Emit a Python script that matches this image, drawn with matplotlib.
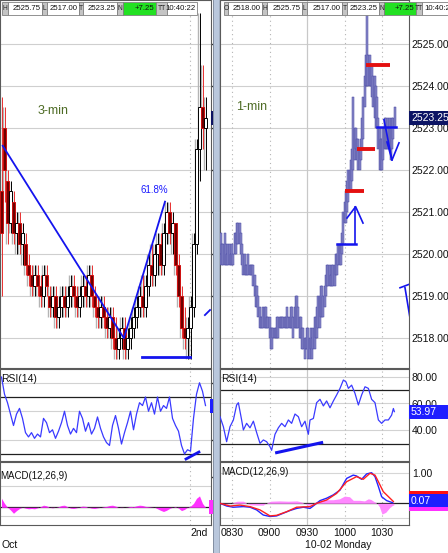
import matplotlib
matplotlib.use('Agg')
import matplotlib.pyplot as plt
from matplotlib.patches import Rectangle
from matplotlib.transforms import blended_transform_factory

plt.rcParams['font.family'] = ['Liberation Sans', 'DejaVu Sans']

# ------------------------------------------------------------------ data
# left pane: 3-min candles
left_open = [2521.5, 2523.0, 2521.75, 2520.75, 2521.25, 2520.5, 2520.75, 2520.25, 2520.25, 2519.75,
             2519.5, 2519.25, 2519.5, 2519.25, 2519.0, 2519.5, 2519.0, 2518.75, 2519.0, 2518.5,
             2518.75, 2519.0, 2518.75, 2519.0, 2519.25, 2519.0, 2518.75, 2519.0, 2519.25, 2519.0,
             2519.5, 2519.0, 2518.75, 2518.5, 2518.75, 2518.5, 2518.25, 2518.5, 2518.0, 2517.75,
             2518.0, 2518.25, 2517.75, 2518.0, 2518.25, 2518.5, 2518.75, 2519.0, 2518.75, 2519.25,
             2519.75, 2519.5, 2520.0, 2520.25, 2519.75, 2520.5, 2521.0, 2520.5, 2520.75, 2519.75,
             2519.0, 2518.25, 2518.0, 2518.25, 2518.75, 2520.25, 2522.5, 2523.5, 2523.0]
left_high = [2523.75, 2523.5, 2522.0, 2521.75, 2521.5, 2521.0, 2521.0, 2520.75, 2520.5, 2520.0,
             2519.75, 2519.75, 2519.75, 2519.5, 2519.75, 2519.75, 2519.25, 2519.25, 2519.25, 2519.0,
             2519.25, 2519.25, 2519.25, 2519.5, 2519.5, 2519.25, 2519.25, 2519.5, 2519.5, 2519.75,
             2519.75, 2519.25, 2519.0, 2519.0, 2519.0, 2518.75, 2518.75, 2518.75, 2518.5, 2518.25,
             2518.5, 2518.5, 2518.25, 2518.5, 2518.75, 2519.0, 2519.25, 2519.5, 2519.5, 2520.0,
             2520.25, 2520.25, 2520.5, 2520.5, 2520.75, 2521.25, 2521.25, 2521.0, 2520.75, 2520.0,
             2519.25, 2518.75, 2518.5, 2519.0, 2520.5, 2522.75, 2525.75, 2524.5, 2523.75]
left_low = [2519.0, 2521.25, 2520.25, 2520.5, 2520.25, 2520.0, 2520.0, 2519.75, 2519.5, 2519.25,
            2519.0, 2519.0, 2519.0, 2518.75, 2518.75, 2519.0, 2518.5, 2518.5, 2518.25, 2518.25,
            2518.5, 2518.5, 2518.5, 2518.75, 2518.75, 2518.5, 2518.5, 2518.75, 2518.75, 2518.75,
            2518.75, 2518.5, 2518.25, 2518.25, 2518.25, 2518.0, 2518.0, 2517.75, 2517.5, 2517.5,
            2517.75, 2517.5, 2517.5, 2517.75, 2518.0, 2518.25, 2518.5, 2518.5, 2518.5, 2519.0,
            2519.25, 2519.25, 2519.5, 2519.5, 2519.5, 2520.25, 2520.25, 2520.0, 2519.5, 2518.75,
            2518.0, 2517.75, 2517.5, 2517.5, 2518.5, 2520.0, 2521.75, 2522.5, 2522.0]
left_close = [2520.5, 2522.0, 2520.75, 2521.5, 2520.5, 2520.75, 2520.25, 2520.5, 2519.75, 2519.5,
              2519.25, 2519.5, 2519.25, 2519.0, 2519.5, 2519.25, 2518.75, 2519.0, 2518.5, 2518.75,
              2519.0, 2518.75, 2519.0, 2519.25, 2519.0, 2518.75, 2519.0, 2519.25, 2519.0, 2519.5,
              2519.0, 2518.75, 2518.5, 2518.75, 2518.5, 2518.25, 2518.5, 2518.0, 2517.75, 2518.0,
              2518.25, 2517.75, 2518.0, 2518.25, 2518.5, 2518.75, 2519.0, 2518.75, 2519.25, 2519.75,
              2519.5, 2520.0, 2520.25, 2519.75, 2520.5, 2521.0, 2520.5, 2520.75, 2519.75, 2519.0,
              2518.25, 2518.0, 2518.25, 2518.75, 2520.25, 2522.5, 2523.5, 2523.0, 2523.25]
left_rsi = [84, 72, 66, 58, 50, 58, 62, 55, 45, 42, 45, 41, 44, 42, 55, 52, 45, 47, 41, 46,
            52, 60, 50, 44, 48, 45, 60, 55, 46, 52, 44, 48, 56, 48, 42, 38, 36, 50, 57, 48,
            37, 45, 52, 60, 47, 58, 66, 64, 70, 60, 66, 58, 70, 60, 64, 62, 70, 55, 50, 46,
            36, 30, 33, 32, 55, 72, 80, 74, 64]
left_hist = [0.3, 0.13, 0.0, -0.09, -0.2, -0.11, -0.04, 0.0, -0.03, -0.05,
             -0.04, -0.05, -0.02, 0.02, 0.07, 0.05, 0.0, -0.02, 0.0, 0.02,
             0.06, 0.07, 0.02, -0.03, -0.04, -0.02, 0.01, 0.04, 0.03, 0.0,
             -0.03, -0.04, -0.02, 0.0, 0.02, 0.03, 0.06, 0.07, 0.04, 0.0,
             -0.01, 0.0, 0.01, 0.03, 0.02, 0.05, 0.07, 0.06, 0.03, 0.02,
             0.01, 0.0, -0.05, -0.1, -0.14, -0.1, -0.04, 0.0, 0.02, -0.03,
             -0.11, -0.07, 0.0, 0.04, 0.13, 0.3, 0.38, 0.13, 0.0]
left_day_break = 62.83

# right pane: 1-min bars, minutes from 08:30
right_minutes = list(range(-10, 131))
right_high = [2520.5, 2520.5, 2520.25, 2520.25, 2520.5, 2520.25, 2520.0, 2520.25, 2520.25, 2520.0,
              2520.25, 2520.0, 2520.5, 2520.5, 2520.75, 2520.75, 2520.75, 2520.5, 2520.25, 2520.0,
              2520.0, 2519.75, 2519.75, 2520.0, 2519.75, 2519.75, 2519.75, 2519.75, 2519.5, 2519.25,
              2519.25, 2519.0, 2518.75, 2518.5, 2518.5, 2518.75, 2518.75, 2518.75, 2518.5, 2518.5,
              2518.5, 2518.25, 2518.25, 2518.25, 2518.25, 2518.25, 2518.5, 2518.5, 2518.5, 2518.5,
              2518.5, 2518.5, 2518.5, 2518.5, 2518.75, 2518.5, 2518.5, 2518.75, 2518.75, 2518.5,
              2518.75, 2519.0, 2519.0, 2518.75, 2518.5, 2518.5, 2518.25, 2518.25, 2518.0, 2518.0,
              2518.25, 2518.25, 2518.0, 2518.25, 2518.0, 2518.25, 2518.5, 2518.5, 2518.75, 2519.0,
              2519.0, 2519.25, 2519.25, 2519.0, 2519.25, 2519.5, 2519.75, 2519.75, 2519.75, 2519.5,
              2519.75, 2519.75, 2519.75, 2520.0, 2520.0, 2520.25, 2520.25, 2520.25, 2520.5, 2521.0,
              2521.25, 2521.5, 2521.75, 2522.0, 2522.0, 2522.25, 2522.5, 2523.75, 2523.0, 2523.0,
              2522.75, 2522.75, 2522.5, 2522.75, 2523.25, 2523.75, 2524.25, 2524.75, 2525.75, 2524.75,
              2524.75, 2524.5, 2524.5, 2524.25, 2524.25, 2524.0, 2523.75, 2523.25, 2523.0, 2522.75,
              2522.75, 2523.0, 2523.25, 2523.25, 2523.0, 2523.25, 2523.25, 2523.0, 2523.25, 2523.25,
              2523.5]
right_low = [2519.75, 2520.0, 2519.75, 2519.75, 2519.75, 2519.75, 2519.75, 2519.75, 2519.75, 2519.75,
             2519.75, 2519.75, 2520.0, 2520.0, 2520.25, 2520.25, 2520.25, 2520.0, 2519.75, 2519.5,
             2519.5, 2519.5, 2519.5, 2519.5, 2519.5, 2519.5, 2519.5, 2519.25, 2519.0, 2518.75,
             2518.75, 2518.5, 2518.25, 2518.25, 2518.25, 2518.25, 2518.25, 2518.25, 2518.25, 2518.25,
             2518.0, 2517.75, 2517.75, 2518.0, 2518.0, 2518.0, 2518.0, 2518.0, 2518.25, 2518.25,
             2518.25, 2518.25, 2518.25, 2518.25, 2518.25, 2518.25, 2518.25, 2518.25, 2518.25, 2518.0,
             2518.25, 2518.25, 2518.25, 2518.25, 2518.0, 2518.0, 2517.75, 2517.75, 2517.5, 2517.75,
             2517.75, 2517.5, 2517.5, 2517.75, 2517.5, 2517.75, 2517.75, 2518.0, 2518.0, 2518.25,
             2518.25, 2518.5, 2518.5, 2518.5, 2518.75, 2519.0, 2519.25, 2519.25, 2519.25, 2519.25,
             2519.25, 2519.25, 2519.25, 2519.5, 2519.5, 2519.75, 2519.75, 2519.75, 2520.0, 2520.25,
             2520.75, 2520.75, 2521.0, 2521.25, 2521.5, 2521.5, 2521.75, 2522.0, 2522.25, 2522.5,
             2522.25, 2522.0, 2522.0, 2522.25, 2522.5, 2522.75, 2523.5, 2524.0, 2524.0, 2524.0,
             2524.0, 2524.0, 2523.75, 2523.5, 2523.25, 2523.0, 2523.0, 2522.5, 2522.0, 2522.0,
             2522.0, 2522.25, 2522.5, 2522.5, 2522.5, 2522.5, 2522.5, 2522.25, 2522.5, 2522.75,
             2523.0]
right_last = 2523.25

right_rsi_t = [-9.6, -6.9, -4.3, -1.6, 1.1, 3.7, 5.1, 7.7, 9.1, 11.7, 14.4, 17.1, 19.7, 22.4, 25.1,
               27.7, 30.4, 31.7, 34.4, 37.1, 39.7, 42.4, 45.1, 47.7, 50.4, 53.1, 55.7, 58.4, 59.7,
               61.1, 62.4, 65.1, 67.7, 70.4, 73.1, 75.7, 78.4, 81.1, 83.7, 86.4, 89.1, 91.2, 93.1,
               95.7, 98.4, 101.1, 103.7, 106.4, 109.1, 111.7, 114.4, 117.1, 119.7, 122.4, 125.1,
               127.7, 129.1, 129.9]
right_rsi = [50.2, 42.8, 31.7, 42.8, 47.8, 58.9, 60.6, 47.8, 40.4, 45.3, 42.0, 46.9, 38.5, 30.5, 33.0,
             31.7, 28.0, 25.3, 37.2, 42.0, 45.3, 42.8, 47.8, 45.3, 52.2, 50.2, 42.8, 46.9, 42.0,
             37.2, 47.8, 48.9, 60.6, 63.1, 58.2, 61.9, 56.8, 61.9, 66.3, 71.2, 77.4, 76.0, 71.2,
             73.6, 67.5, 58.9, 66.3, 72.4, 71.2, 63.1, 60.6, 47.8, 45.3, 47.8, 47.8,
             51.4, 56.3, 53.97]
right_rsi_last = 53.97

right_macd_t = [-9.6, -4.3, 1.1, 9.1, 14.4, 19.7, 25.0, 30.4, 35.7, 41.0, 46.4, 51.7, 57.1, 62.4,
                65.0, 70.4, 75.7, 81.0, 86.4, 91.7, 97.0, 99.7, 103.7, 107.7, 111.7, 114.4, 117.1,
                119.7, 123.7, 128.5]
right_macd = [0.0, -0.09, -0.13, -0.11, -0.13, -0.22, -0.39, -0.44, -0.42, -0.33, -0.24, -0.17,
              -0.13, -0.17, -0.09, 0.09, 0.17, 0.28, 0.44, 0.83, 0.94, 0.91, 0.8, 0.98, 1.02, 0.89,
              0.56, 0.22, 0.09, 0.02]
right_sig_t = [-9.6, -1.6, 6.4, 14.4, 22.4, 30.4, 35.7, 43.7, 51.7, 62.4, 67.7, 75.7, 83.7, 91.7,
               99.7, 105.0, 110.4, 114.4, 117.1, 121.0, 126.4, 129.1]
right_signal = [0.0, -0.09, -0.06, -0.11, -0.22, -0.42, -0.4, -0.28, -0.13, -0.11, 0.0, 0.11, 0.33,
                0.72, 0.89, 0.8, 1.0, 0.94, 0.72, 0.39, 0.17, 0.06]
right_hist_t = [-9.6, -4, 1, 4, 9, 12, 14.4, 20, 25, 27, 31, 38, 45, 52, 55, 58, 61, 64, 67, 70,
                75, 81, 86, 90, 94, 97, 102, 106, 109, 111, 114, 116, 118, 120, 123, 126, 128, 129.5]
right_hist = [-0.02, -0.03, 0.02, 0.07, 0.07, 0.0, -0.05, -0.06, -0.06, 0.0, 0.07, 0.08, 0.07, 0.08,
              0.05, 0.0, -0.06, -0.03, 0.05, 0.1, 0.12, 0.12, 0.15, 0.24, 0.22, 0.1, 0.1, 0.08,
              0.15, 0.13, 0.05, 0.0, -0.12, -0.36, -0.3, -0.15, -0.08, -0.05]
right_macd_last = 0.07

time_ticks = [0, 30, 60, 90, 120]
time_labels = ['0830', '0900', '0930', '1000', '1030']
price_ticks = [2518, 2519, 2520, 2521, 2522, 2523, 2524, 2525]
rsi_ticks = [40, 60, 80]
rsi_bands = [30, 70]

left_header_labels = ['H', 'L', 'T', 'N', 'TT']
left_header_values = ['2525.75', '2517.00', '2523.25', '+7.25', '10:40:22']
right_header_labels = ['O', 'H', 'L', 'T', 'N', 'TT']
right_header_values = ['2518.00', '2525.75', '2517.00', '2523.25', '+7.25', '10:40:22']

# drawing objects (price / time coordinates)
left_fib_x = [0.4, 40.8, 54.5]
left_fib_y = [2522.58, 2518.0, 2521.25]
left_base_x = [46.8, 62.8]
left_base_y = [2517.55, 2517.55]
red_levels = [2524.5, 2522.5, 2521.5]
red_from = [107.2, 100.0, 90.4]
red_to = [126.4, 114.4, 105.6]

# ------------------------------------------------------------------ layout
W, H = 448, 553
fig = plt.figure(figsize=(W / 100, H / 100), dpi=100)
fig.patch.set_facecolor('white')


def px_rect(x0, y0, x1, y1):
    return [x0 / W, 1 - y1 / H, (x1 - x0) / W, (y1 - y0) / H]


def style(ax, labels=True):
    ax.set_facecolor('white')
    for s in ax.spines.values():
        s.set_color('#5a5a5a')
        s.set_linewidth(0.8)
    ax.yaxis.tick_right()
    ax.tick_params(left=False, bottom=False, labelbottom=False, labelleft=False,
                   labelright=labels, pad=2, labelsize=7.5, labelcolor='#111111')
    if labels:
        ax.tick_params(right=False, length=0)
    else:
        # the left panel's own price scale sits under the separator: only stubs show
        ax.tick_params(right=True, length=2.2, width=1.0, color='#333333')


LX0, LX1 = 0, 211
RX0, RX1 = 219.5, 409
axLp = fig.add_axes(px_rect(LX0, 0, LX1, 368))
axLr = fig.add_axes(px_rect(LX0, 369, LX1, 461))
axLm = fig.add_axes(px_rect(LX0, 462, LX1, 525))
axRp = fig.add_axes(px_rect(RX0, 0, RX1, 368))
axRr = fig.add_axes(px_rect(RX0, 369, RX1, 461))
axRm = fig.add_axes(px_rect(RX0, 462, RX1, 525))
for a in (axLp, axLr, axLm):
    style(a, labels=False)
for a in (axRp, axRr, axRm):
    style(a, labels=True)

LXL = (-0.5, 69.83)
RXL = (-10, 141.6)
for a in (axLp, axLr, axLm):
    a.set_xlim(*LXL)
for a in (axRp, axRr, axRm):
    a.set_xlim(*RXL)
for a in (axLp, axRp):
    a.set_ylim(2517.29, 2526.05)
    a.set_yticks(price_ticks)
    a.set_yticklabels([f'{v:.2f}' for v in price_ticks])
    for v in price_ticks:
        a.axhline(v, color='#cfcfcf', lw=0.8, zorder=0)
axRr.set_ylim(17.4, 85.56)
axLr.set_ylim(25.1, 89.65)
for a in (axLr, axRr):
    a.set_yticks(rsi_ticks)
    a.set_yticklabels([f'{v:.2f}' for v in rsi_ticks])
    for v in rsi_ticks:
        a.axhline(v, color='#d2d2d2', lw=0.8, zorder=0)
    for v in rsi_bands:
        a.axhline(v, color='#202020', lw=0.9, zorder=1)
axRm.set_ylim(-0.723, 1.377)
axLm.set_ylim(-0.59, 1.51)
axRm.set_yticks([1.0])
axRm.set_yticklabels(['1.00'])
axLm.set_yticks([1.0])
axLm.set_yticklabels(['1.00'])
axRm.axhline(1.0, color='#d6d6d6', lw=0.8, zorder=0)
axRm.axhline(-0.5, color='#d6d6d6', lw=0.8, zorder=0)
axLm.axhline(0.7, color='#d2d2d2', lw=0.8, zorder=0)
axLm.axhline(-0.3, color='#d2d2d2', lw=0.8, zorder=0)
for a in (axLm, axRm):
    a.axhline(0, color='#202020', lw=0.9, zorder=1)

# vertical time grid
for a in (axRp, axRr, axRm):
    for t in time_ticks:
        if t == 60:
            a.axvline(t, color='#c8c8c8', lw=0.9, zorder=0)
        else:
            a.axvline(t, color='#b4b4b4', lw=0.8, ls=(0, (1, 3)), zorder=0)
for a in (axLp, axLr, axLm):
    a.axvline(left_day_break, color='#b4b4b4', lw=0.8, ls=(0, (1, 3)), zorder=0)

# ---- left candles
for i, (o, h, l, c) in enumerate(zip(left_open, left_high, left_low, left_close)):
    if c > o:
        ec, fc, wc = '#000000', '#ffffff', '#000000'
    elif c < o:
        ec, fc, wc = '#d01010', '#6e0000', '#e83030'
    else:
        ec, fc, wc = '#8a8a8a', '#b0b0b0', '#8a8a8a'
    axLp.vlines(i - 0.5, l, h, color='#b4b4b4', lw=1.0, zorder=2)
    axLp.vlines(i, l, h, color=wc, lw=0.7, zorder=3)
    axLp.add_patch(Rectangle((i - 0.36, min(o, c)), 0.72, max(abs(c - o), 0.06),
                             fc=fc, ec=ec, lw=0.7, zorder=4))

axLp.plot(left_fib_x, left_fib_y, color='#1414ee', lw=1.3, zorder=6)
axLp.plot(left_base_x, left_base_y, color='#1414ee', lw=2.0, zorder=6)
axLp.plot([67.8, 69.5], [2518.55, 2518.67], color='#1414ee', lw=1.3, zorder=6)
axLp.text(51.0, 2521.52, '61.8%', color='#1a1aff', fontsize=7, ha='center', va='center', zorder=7)
axLp.text(38 / 211, 1 - 111 / 368, '3-min', transform=axLp.transAxes, color='#4d6b24',
          fontsize=9, ha='left', va='center')

# ---- right bars
for t, hi, lo in zip(right_minutes, right_high, right_low):
    axRp.add_patch(Rectangle((t - 0.8, lo), 1.6, hi - lo, fc='#8888c8', ec='#4444a0',
                             lw=0.35, zorder=3))
for lvl, x0, x1 in zip(red_levels, red_from, red_to):
    axRp.plot([x0, x1], [lvl, lvl], color='#e41010', lw=2.8, solid_capstyle='butt', zorder=6)
blue = '#1414ee'
axRp.plot([84, 99.2], [2520.25, 2520.25], color=blue, lw=1.8, zorder=6)
axRp.plot([98, 98], [2520.25, 2521.13], color=blue, lw=1.2, zorder=6)
axRp.plot([92, 98.9, 104.8], [2520.86, 2521.13, 2520.74], color=blue, lw=1.2, zorder=6)
axRp.plot([116, 131], [2523.03, 2523.03], color=blue, lw=1.8, zorder=6)
axRp.plot([121.6, 128], [2523.2, 2522.24], color=blue, lw=1.2, zorder=6)
axRp.plot([124, 128, 133.6], [2522.67, 2522.24, 2522.65], color=blue, lw=1.2, zorder=6)
axRp.plot([134.4, 142.4], [2519.2, 2519.29], color=blue, lw=1.2, zorder=6)
axRp.plot([138.4, 142.4], [2519.2, 2518.48], color=blue, lw=1.2, zorder=6)
axRp.text(17 / 189.5, 1 - 107 / 368, '1-min', transform=axRp.transAxes, color='#4d6b24',
          fontsize=9, ha='left', va='center')

# ---- RSI
axLr.plot(range(len(left_rsi)), left_rsi, color='#3a3aff', lw=0.9, zorder=3)
axLr.plot([61.5, 65.8], [26.5, 31.4], color=blue, lw=2.0, zorder=4)
axRr.plot(right_rsi_t, right_rsi, color='#3a3aff', lw=0.9, zorder=3)
axRr.plot([35.7, 71.7], [23.6, 31.0], color=blue, lw=2.2, zorder=4)
for a in (axLr, axRr):
    a.text(0.005 if a is axLr else 0.01, 1 - 10 / 92, 'RSI(14)', transform=a.transAxes,
           fontsize=7.5, ha='left', va='center', color='#111111')

# ---- MACD
axLm.fill_between(range(len(left_hist)), 0, left_hist, color='#ff30ff', lw=0, zorder=2)
axRm.fill_between(right_hist_t, 0, right_hist, color='#ff88ff', lw=0, zorder=2)
axRm.plot(right_macd_t, right_macd, color='#2424ff', lw=1.0, zorder=3)
axRm.plot(right_sig_t, right_signal, color='#ff2020', lw=1.0, zorder=3)
axLm.text(0.003, 1 - 14 / 63, 'MACD(12,26,9)', transform=axLm.transAxes, fontsize=7,
          ha='left', va='center', color='#111111')
axRm.text(0.01, 1 - 10 / 63, 'MACD(12,26,9)', transform=axRm.transAxes, fontsize=7,
          ha='left', va='center', color='#111111')

axRm.set_xticks(time_ticks)
axRm.set_xticklabels(time_labels)
axRm.tick_params(labelbottom=True, pad=2.5, labelsize=7.5)
axLm.text(left_day_break, -8 / 63, '2nd',
          transform=blended_transform_factory(axLm.transData, axLm.transAxes),
          fontsize=7.5, ha='left', va='center', color='#111111')

# ------------------------------------------------------------------ overlay
ov = fig.add_axes([0, 0, 1, 1], zorder=20)
ov.set_xlim(0, W)
ov.set_ylim(H, 0)
ov.axis('off')
ov.patch.set_alpha(0)


def ypx(ax, v):
    return H - ax.transData.transform((ax.get_xlim()[0], v))[1]


# separator between panels
ov.add_patch(Rectangle((212.5, 0), 6.5, H, fc='#b9c7dc', ec='none'))
ov.plot([212.5, 212.5], [0, H], color='#7a8699', lw=0.6)
ov.plot([219, 219], [0, H], color='#8f9db3', lw=0.6)

# clipped value boxes on the left panel
ov.add_patch(Rectangle((210.5, ypx(axLp, right_last) - 7), 2, 14, fc='#0c1464', ec='none'))
ov.add_patch(Rectangle((209.5, ypx(axLr, left_rsi[-1]) - 7), 3, 14, fc='#1e1eff', ec='none'))
ov.add_patch(Rectangle((208.5, ypx(axLm, 0.0) - 7), 4, 14, fc='#ff30ff', ec='none'))

# value boxes on the right axis
yb = ypx(axRp, right_last)
ov.add_patch(Rectangle((409, yb - 7), 39, 14, fc='#0c1464', ec='none'))
ov.text(411, yb, f'{right_last:.2f}', color='white', fontsize=7.5, ha='left', va='center')
yb = ypx(axRr, right_rsi_last)
ov.add_patch(Rectangle((409, yb - 7), 39, 14, fc='#1e1eff', ec='none'))
ov.text(411, yb, f'{right_rsi_last:.2f}', color='white', fontsize=7.5, ha='left', va='center')
yb = ypx(axRm, right_macd_last)
ov.add_patch(Rectangle((409, yb - 10), 39, 3, fc='#ff1010', ec='none'))
ov.add_patch(Rectangle((409, yb + 6), 39, 4, fc='#ff30ff', ec='none'))
ov.add_patch(Rectangle((409, yb - 7), 39, 13, fc='#1e1eff', ec='none'))
ov.text(411, yb, f'{right_macd_last:.2f}', color='white', fontsize=7.5, ha='left', va='center')

# header strips
left_bounds = [(2, 8, 42), (42, 47, 79), (79, 83, 117), (117, 123, 156), (156, 167, 197)]
right_bounds = [(224, 228, 262), (262, 267, 302), (302, 307, 342), (342, 347, 379),
                (379, 384, 416), (416, 422, 452)]


def header(labels, values, bounds):
    for lab, val, (a, b, c) in zip(labels, values, bounds):
        ov.add_patch(Rectangle((a, 2), b - a, 13, fc='#c4c4c4', ec='#808080', lw=0.6))
        ov.text((a + b) / 2, 8.7, lab, fontsize=4.8, ha='center', va='center', color='#222222')
        fc = '#22e022' if lab == 'N' else 'white'
        ov.add_patch(Rectangle((b, 2), c - b, 13, fc=fc, ec='#808080', lw=0.6))
        if c > W:
            ov.text(b + 2, 8.7, val, fontsize=5.6, ha='left', va='center', color='#111111',
                    clip_on=True)
        else:
            ov.text(c - 1.5, 8.7, val, fontsize=5.6, ha='right', va='center', color='#111111')


header(left_header_labels, left_header_values, left_bounds)
header(right_header_labels, right_header_values, right_bounds)

ov.text(2, 545, 'Oct', fontsize=7.5, ha='left', va='center', color='#111111')
ov.text(338, 545, '10-02 Monday', fontsize=7.5, ha='center', va='center', color='#111111')

fig.savefig('out.png', dpi=100)
